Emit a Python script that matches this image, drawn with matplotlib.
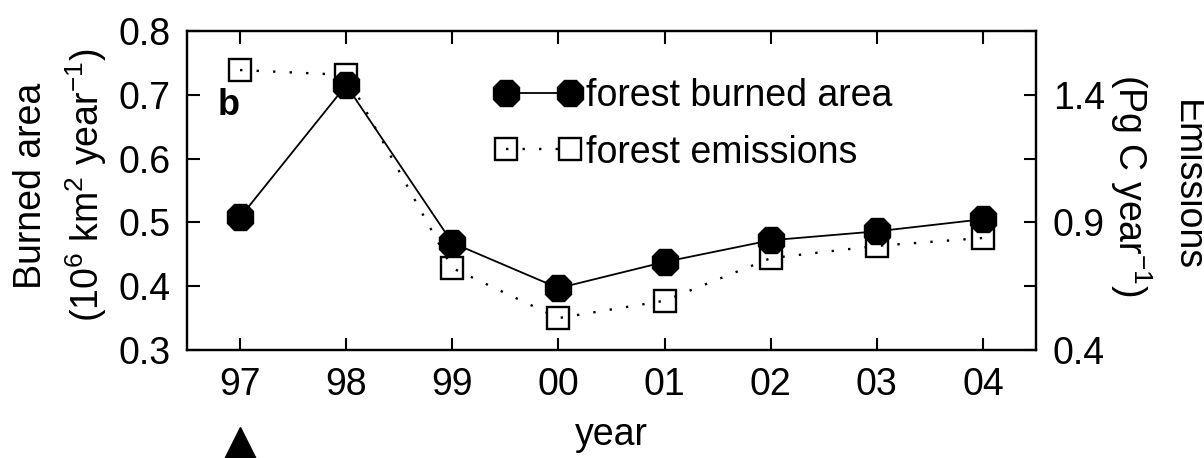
import matplotlib
matplotlib.use("Agg")
import matplotlib.pyplot as plt
import numpy as np

years = ["97", "98", "99", "00", "01", "02", "03", "04"]
burned_area = [0.508, 0.715, 0.468, 0.397, 0.438, 0.472, 0.486, 0.505]
emissions = [1.497, 1.478, 0.721, 0.525, 0.593, 0.760, 0.808, 0.839]
left_ticks = [0.3, 0.4, 0.5, 0.6, 0.7, 0.8]
right_ticks = [0.4, 0.65, 0.9, 1.15, 1.4, 1.65]
right_labels = ["0.4", "", "0.9", "", "1.4", ""]

plt.rcParams['font.family'] = ['Liberation Sans', 'DejaVu Sans']
plt.rcParams['mathtext.fontset'] = 'custom'
plt.rcParams['mathtext.rm'] = 'Liberation Sans'
plt.rcParams['mathtext.it'] = 'Liberation Sans'

fig = plt.figure(figsize=(12.04, 4.58), dpi=100)
ax = fig.add_axes([0.1553, 0.2358, 0.8605 - 0.1553, 0.9323 - 0.2358])
ax2 = ax.twinx()

x = np.arange(len(years))

l2, = ax2.plot(x, emissions, color='black', linestyle=(0, (1, 6)), lw=1.7,
               marker='s', markersize=16, markerfacecolor='none',
               markeredgecolor='black', markeredgewidth=1.7, zorder=2)
ax.set_zorder(ax2.get_zorder() + 1)
ax.patch.set_visible(False)
l1, = ax.plot(x, burned_area, color='black', linestyle='-', lw=1.3,
              marker='8', markersize=21, markerfacecolor='black',
              markeredgecolor='black', zorder=3)

ax.set_xlim(-0.5, 7.5)
ax.set_ylim(0.3, 0.8)
ax2.set_ylim(0.4, 1.65)
ax.set_xticks(x)
ax.set_xticklabels(years)
ax.set_yticks(left_ticks)
ax.set_yticklabels([f"{t:.1f}" for t in left_ticks])
ax2.set_yticks(right_ticks)
ax2.set_yticklabels(right_labels)

ax.tick_params(axis='both', direction='in', length=9, width=1.5, labelsize=27,
               top=True, right=False, pad=12)
ax.tick_params(axis='x', pad=12)
ax2.tick_params(axis='y', direction='in', length=9, width=1.5, labelsize=27, pad=12)
for a in (ax, ax2):
    for s in a.spines.values():
        s.set_linewidth(1.6)

ax.set_xlabel("year", fontsize=27, labelpad=10)
fig.text(0.026, 0.595, "Burned area", rotation=90, fontsize=27,
         ha='center', va='center')
fig.text(0.072, 0.595, r"(10$^{6}$ km$^{2}$ year$^{\mathrm{-1}}$)", rotation=90,
         fontsize=27, ha='center', va='center')
fig.text(0.939, 0.595, r"(Pg C year$^{\mathrm{-1}}$)", rotation=-90, fontsize=27,
         ha='center', va='center')
fig.text(0.986, 0.595, "Emissions", rotation=-90, fontsize=27,
         ha='center', va='center')

ax.text(0.036, 0.765, "b", transform=ax.transAxes, fontsize=26, fontweight='bold',
        ha='left', va='center')

leg = ax.legend([l1, l2], ["forest burned area", "forest emissions"],
                loc='upper left', bbox_to_anchor=(0.345, 0.9), frameon=False,
                fontsize=27, handlelength=2.3, handletextpad=0.12, numpoints=2,
                labelspacing=0.55, borderaxespad=0)

# arrow marker below 97
ax.plot([0], [-0.30], marker='^', markersize=27, color='black',
        transform=ax.get_xaxis_transform(), clip_on=False)

fig.savefig("out.png", dpi=100)
